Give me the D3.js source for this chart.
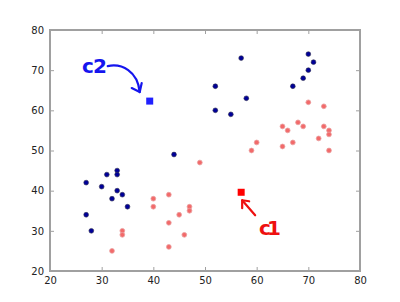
<!DOCTYPE html>
<html><head><meta charset="utf-8">
<script src="https://cdn.jsdelivr.net/npm/d3@7"></script>
<style>html,body{margin:0;padding:0;background:#fff;}svg{display:block;}</style>
</head><body>
<svg id="chart" width="400" height="302"></svg>
<script>
const blueX = [27,27,28,30,31,33,33,33,32,34,35,44,57,52,58,52,55,70,71,70,69,67];
const blueY = [42,34,30,41,44,45,44,40,38,39,36,49,73,66,63,60,59,74,72,70,68,66];
const redX = [32,34,34,40,40,43,43,43,45,46,47,47,49,70,73,68,65,69,66,73,74,74,72,60,59,65,67,74];
const redY = [25,30,29,38,36,39,32,26,34,29,36,35,47,62,61,57,56,56,55,56,55,54,53,52,50,51,52,50];
const centroidNames = ["c1","c2"];
const centroidX = [57,39.3];
const centroidY = [39.6,62.3];
const xTicks = [20,30,40,50,60,70,80];
const yTicks = [20,30,40,50,60,70,80];

const svg = d3.select("#chart");
const pL=50, pR=360, pT=30, pB=271;
const x = d3.scaleLinear().domain([20,80]).range([pL,pR]);
const y = d3.scaleLinear().domain([20,80]).range([pB,pT]);
const axisColor = "#a0a0a0";

const g = svg.append("g");
const ax = [
  {axis:d3.axisBottom(x).tickValues(xTicks).tickSize(-4).tickPadding(6), t:`translate(0,${pB})`},
  {axis:d3.axisTop(x).tickValues(xTicks).tickSize(-4).tickFormat(""), t:`translate(0,${pT})`},
  {axis:d3.axisLeft(y).tickValues(yTicks).tickSize(-4).tickPadding(6), t:`translate(${pL},0)`},
  {axis:d3.axisRight(y).tickValues(yTicks).tickSize(-4).tickFormat(""), t:`translate(${pR},0)`}
];
ax.forEach(a=>{
  const gg = g.append("g").attr("transform",a.t).call(a.axis);
  gg.select(".domain").remove();
  gg.selectAll(".tick line").attr("stroke",axisColor).attr("stroke-width",1);
  gg.selectAll(".tick text").attr("fill","#222").style("font-family","DejaVu Sans, sans-serif").style("font-size","10px");
});
svg.append("rect").attr("x",pL).attr("y",pT).attr("width",pR-pL).attr("height",pB-pT)
  .attr("fill","none").attr("stroke",axisColor).attr("stroke-width",2);

svg.append("g").selectAll("circle").data(redX).join("circle")
  .attr("cx",(d,i)=>x(d)).attr("cy",(d,i)=>y(redY[i])).attr("r",2.4)
  .attr("fill","#f26a6a").attr("stroke","#eaa0a0").attr("stroke-width",0.8);
svg.append("g").selectAll("circle").data(blueX).join("circle")
  .attr("cx",(d,i)=>x(d)).attr("cy",(d,i)=>y(blueY[i])).attr("r",2.4)
  .attr("fill","#000098").attr("stroke","#303050").attr("stroke-width",0.6);

const cCol = ["#ff0000","#2020ff"];
svg.append("g").selectAll("rect").data(centroidX).join("rect")
  .attr("x",(d,i)=>x(d)-3.5).attr("y",(d,i)=>y(centroidY[i])-3.5).attr("width",7).attr("height",7)
  .attr("fill",(d,i)=>cCol[i]);

const ann = svg.append("g").attr("fill","none").attr("stroke-width",2.2).attr("stroke-linecap","round").attr("stroke-linejoin","round");
const c2x = x(centroidX[1]), c2y = y(centroidY[1]);
ann.append("path").attr("stroke","#1515ee")
  .attr("d",`M${c2x-42},${c2y-35} C${c2x-28},${c2y-38} ${c2x-12},${c2y-30} ${c2x-10},${c2y-9}`);
ann.append("path").attr("stroke","#1515ee")
  .attr("d",`M${c2x-18},${c2y-13} L${c2x-10},${c2y-9} L${c2x-8},${c2y-18}`);
svg.append("text").attr("x",82).attr("y",73).text(centroidNames[1])
  .attr("fill","#1515ee").attr("textLength",25).style("font-family","DejaVu Sans, sans-serif").style("font-size","20px").style("font-weight","bold");

const c1x = x(centroidX[0]), c1y = y(centroidY[0]);
ann.append("path").attr("stroke","#ee1010")
  .attr("d",`M${c1x+14},${c1y+23} L${c1x+1},${c1y+8}`);
ann.append("path").attr("stroke","#ee1010")
  .attr("d",`M${c1x+1},${c1y+16} L${c1x+1},${c1y+8} L${c1x+8},${c1y+9}`);
svg.append("text").attr("x",259).attr("y",235).text(centroidNames[0])
  .attr("fill","#ee1010").attr("textLength",22).style("font-family","DejaVu Sans, sans-serif").style("font-size","20px").style("font-weight","bold");
</script>
</body></html>
